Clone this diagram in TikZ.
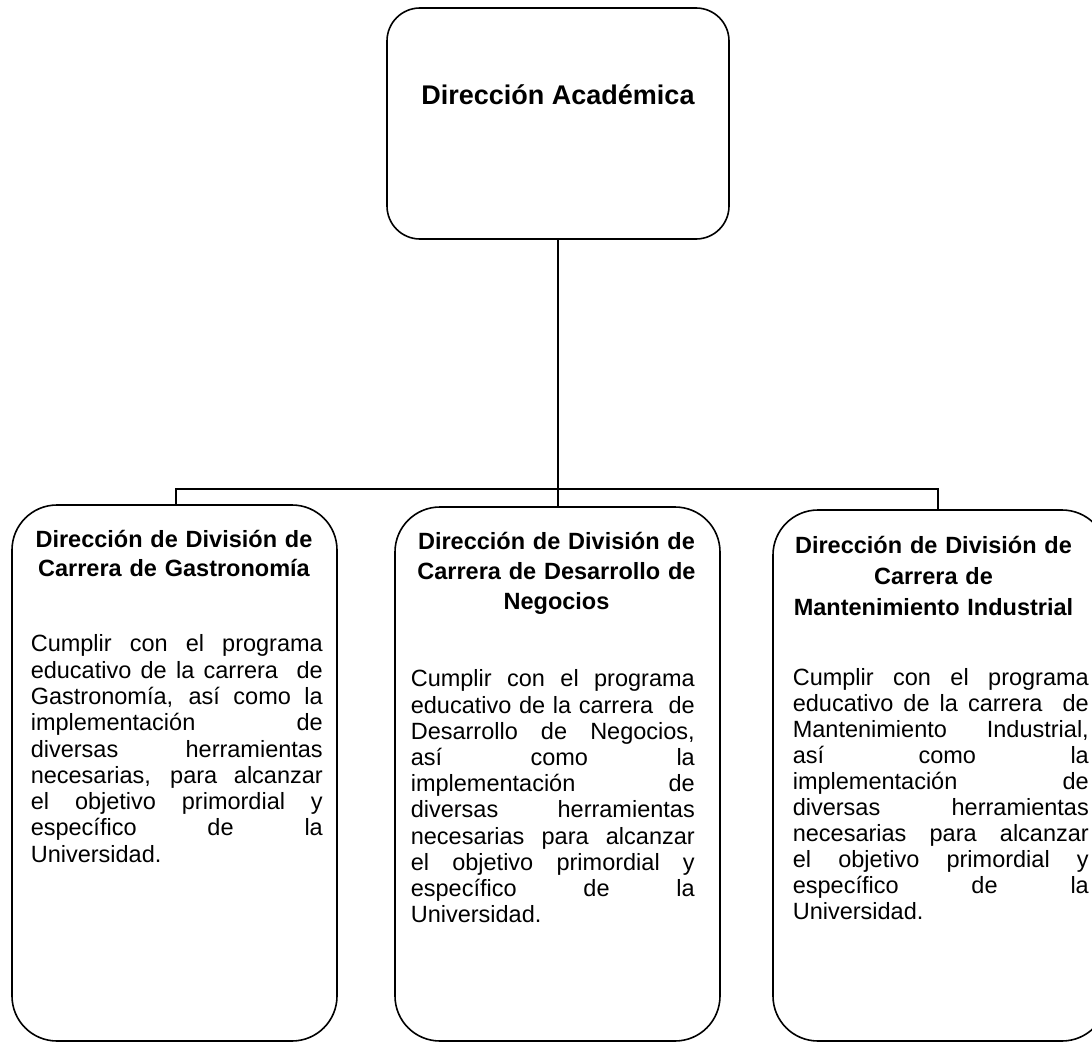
\documentclass[tikz,border=0pt]{standalone}
\usepackage{fontspec}
\setmainfont{Liberation Sans}
\setlength\parindent{0pt}
\newcommand\fstr{\rule{0pt}{24pt}}
\newcommand\bw{292pt}
\newcommand\jl[1]{\makebox[\bw][s]{\spaceskip=\fontdimen2\font plus 1fil\relax #1}}
\begin{document}
\begin{tikzpicture}[x=1pt,y=-1pt,line width=1.6pt,
  box/.style={draw,rounded corners=45pt,inner sep=0pt},
  title/.style={font=\bfseries\fontsize{23.5}{#1}\selectfont,align=center,inner sep=0pt,anchor=north},
  body/.style={font=\fontsize{23.5}{#1}\selectfont,align=left,inner sep=0pt,anchor=north west}]
\useasboundingbox (0,0) rectangle (1092,1043);
\clip (0,0) rectangle (1092,1043);
\fill[white] (0,0) rectangle (1092,1043);

% boxes
\node[box,rounded corners=33pt,minimum width=342pt,minimum height=231pt] (top) at (558,123.5) {};
\node[box,minimum width=325pt,minimum height=536pt] (left) at (174.5,773) {};
\node[box,minimum width=325pt,minimum height=534pt] (mid) at (557.5,774) {};
\node[box,minimum width=334pt,minimum height=531pt] (right) at (940,775.5) {};

% connectors
\coordinate (bar) at (559,489);
\draw (top.south) -- (top.south |- mid.north);
\draw ([xshift=1.5pt]left.north) |- (bar) -| ([xshift=-2pt]right.north);

% texts
\node[font=\bfseries\fontsize{27}{32}\selectfont,anchor=base,inner sep=0pt] (ttext) at (558,105) {Dirección Académica};

\node[title=29,text width=310pt] (ltitle) at (174,523) {\fstr Dirección de División de\\Carrera de Gastronomía};
\node[body=26.3,text width=292pt] (lbody) at (30,627) {\renewcommand\bw{292pt}\fstr\jl{Cumplir con el programa}\\
\jl{educativo de la carrera\ \ de}\\
\jl{Gastronomía, así como la}\\
\jl{implementación de}\\
\jl{diversas herramientas}\\
\jl{necesarias, para alcanzar}\\
\jl{el objetivo primordial y}\\
\jl{específico de la}\\
Universidad.};

\node[title=30,text width=300pt] (mtitle) at (556.5,525) {\fstr Dirección de División de\\Carrera de Desarrollo de\\Negocios};
\node[body=26.2,text width=284pt] (mbody) at (410,662) {\renewcommand\bw{284pt}\fstr\jl{Cumplir con el programa}\\
\jl{educativo de la carrera\ \ de}\\
\jl{Desarrollo de Negocios,}\\
\jl{así como la}\\
\jl{implementación de}\\
\jl{diversas herramientas}\\
\jl{necesarias para alcanzar}\\
\jl{el objetivo primordial y}\\
\jl{específico de la}\\
Universidad.};

\node[title=31,text width=300pt] (rtitle) at (933.5,529) {\fstr Dirección de División de\\Carrera de\\Mantenimiento Industrial};
\node[body=26,text width=296pt] (rbody) at (792,661) {\renewcommand\bw{296pt}\fstr\jl{Cumplir con el programa}\\
\jl{educativo de la carrera\ \ de}\\
\jl{Mantenimiento Industrial,}\\
\jl{así como la}\\
\jl{implementación de}\\
\jl{diversas herramientas}\\
\jl{necesarias para alcanzar}\\
\jl{el objetivo primordial y}\\
\jl{específico de la}\\
Universidad.};
\end{tikzpicture}
\end{document}
